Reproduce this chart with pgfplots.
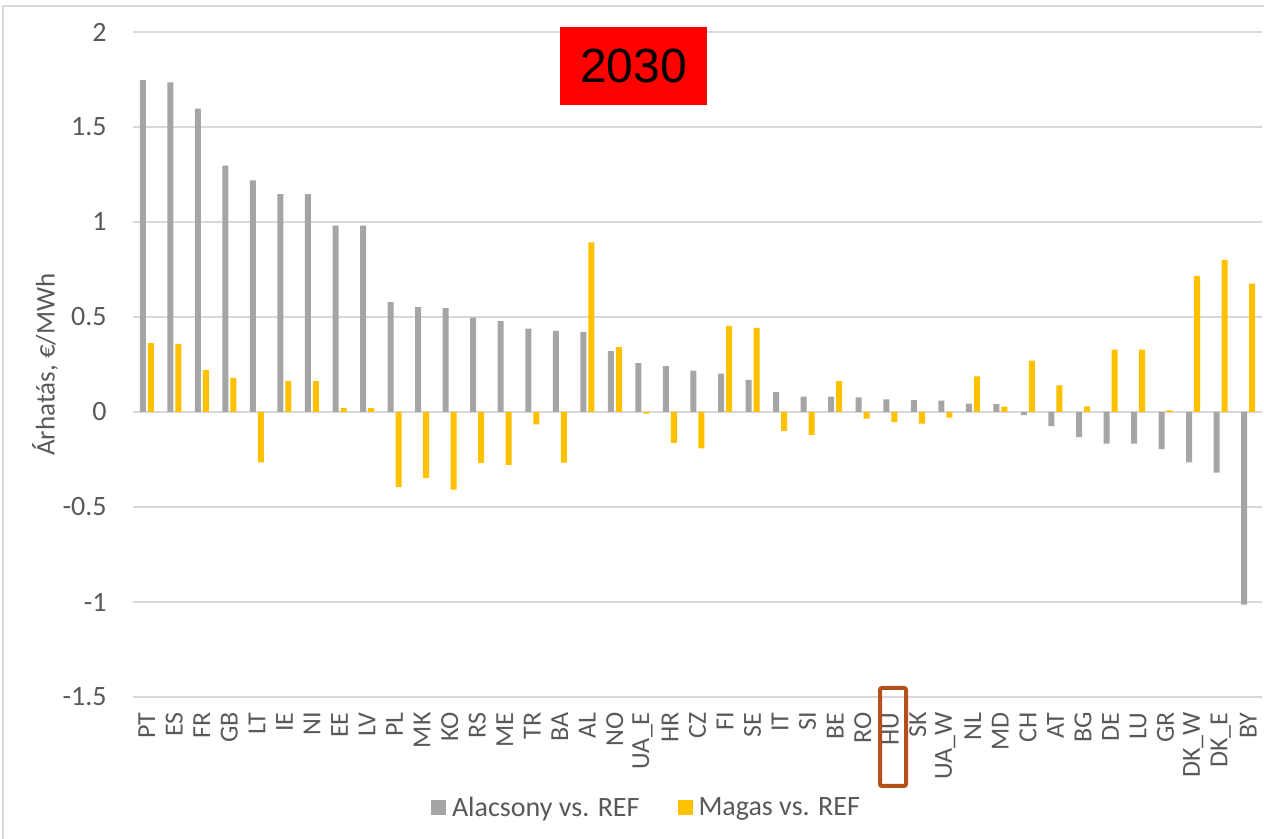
\documentclass[border=0pt]{standalone}
\usepackage{pgfplots}
\pgfplotsset{compat=1.18}
\usepackage{pgfplotstable}
\usepackage{fontspec}
\setmainfont{Carlito}
\newfontfamily\arialfont{Liberation Sans}

\definecolor{lowgray}{HTML}{A5A5A5}
\definecolor{highgold}{HTML}{FFC000}
\definecolor{gridgray}{HTML}{D9D9D9}
\definecolor{labelgray}{HTML}{595959}
\definecolor{hubox}{RGB}{181,80,25}

% Price impact per bidding zone, 2030 (EUR/MWh)
\pgfplotstableread{
idx low high
0 1.746 0.362
1 1.735 0.359
2 1.596 0.220
3 1.296 0.179
4 1.219 -0.265
5 1.147 0.162
6 1.147 0.162
7 0.981 0.021
8 0.981 0.021
9 0.578 -0.395
10 0.552 -0.348
11 0.546 -0.409
12 0.497 -0.268
13 0.478 -0.278
14 0.439 -0.065
15 0.427 -0.267
16 0.421 0.893
17 0.320 0.341
18 0.257 -0.009
19 0.242 -0.163
20 0.218 -0.191
21 0.202 0.453
22 0.169 0.443
23 0.105 -0.100
24 0.081 -0.121
25 0.081 0.162
26 0.077 -0.035
27 0.067 -0.053
28 0.062 -0.061
29 0.060 -0.030
30 0.044 0.187
31 0.042 0.028
32 -0.016 0.271
33 -0.075 0.140
34 -0.132 0.029
35 -0.167 0.328
36 -0.167 0.328
37 -0.196 0.008
38 -0.265 0.716
39 -0.319 0.801
40 -1.014 0.676
}\impact

\pgfplotsset{
  sqlegend/.style={legend image code/.code={%
    \path[##1, draw=none] (0pt,-3.75pt) rectangle (7.5pt,3.75pt);
    \path (8.5pt,0pt);}},
}

\begin{document}
\begin{tikzpicture}[x=1pt,y=1pt]
\useasboundingbox (0,0) rectangle (632,419.5);
% chart frame
\draw[gridgray, line width=0.75pt] (1.5,-5) -- (1.5,416.5) -- (640,416.5);
\begin{axis}[
  at={(66.5pt,71pt)}, anchor=south west,
  scale only axis, width=564.5pt, height=332.5pt,
  ybar=1pt, bar width=3pt,
  xmin=-0.5, xmax=40.5, ymin=-1.5, ymax=2,
  xtick={0,...,40},
  xticklabels={PT,ES,FR,GB,LT,IE,NI,EE,LV,PL,MK,KO,RS,ME,TR,BA,AL,NO,UA\_E,HR,CZ,FI,SE,IT,SI,BE,RO,HU,SK,UA\_W,NL,MD,CH,AT,BG,DE,LU,GR,DK\_W,DK\_E,BY},
  ytick={-1.5,-1,-0.5,0,0.5,1,1.5,2},
  yticklabels={-1.5,-1,-0.5,0,0.5,1,1.5,2},
  /pgf/number format/assume math mode=true,
  axis line style={draw=none},
  ymajorgrids, major grid style={gridgray, line width=0.6pt},
  major tick length=0pt,
  tick label style={text=labelgray},
  x tick label style={rotate=90, anchor=east, inner sep=0pt, font=\fontsize{13}{15}\selectfont},
  xticklabel shift=7.5pt,
  y tick label style={anchor=east, inner sep=0pt, font=\fontsize{14}{16}\selectfont},
  yticklabel shift=13pt,
  ylabel={Árhatás, €/MWh},
  every axis y label/.style={at={(axis description cs:-0.0779,0.5)}, rotate=90, anchor=center, font=\fontsize{13.5}{16}\selectfont, text=labelgray},
  legend columns=2,
  legend style={at={(axis description cs:0.4557,-0.1669)}, anchor=center, draw=none, fill=none,
    font=\fontsize{14}{16}\selectfont, text=labelgray,
    /tikz/every even column/.append style={column sep=17pt}},
]
\addplot[fill=lowgray, draw=none, sqlegend] table[x=idx, y=low] {\impact};
\addlegendentry{Alacsony vs. REF}
\addplot[fill=highgold, draw=none, sqlegend] table[x=idx, y=high] {\impact};
\addlegendentry{Magas vs. REF}
\end{axis}
% year badge
\node[fill=red, minimum width=73.5pt, minimum height=39pt, inner sep=0pt, font=\arialfont\fontsize{24}{28}\selectfont] at (316.75,386.5) {2030};
% highlight for HU
\draw[hubox, line width=2pt, rounded corners=1pt] (440,26.5) rectangle (453,75.5);
\end{tikzpicture}
\end{document}
